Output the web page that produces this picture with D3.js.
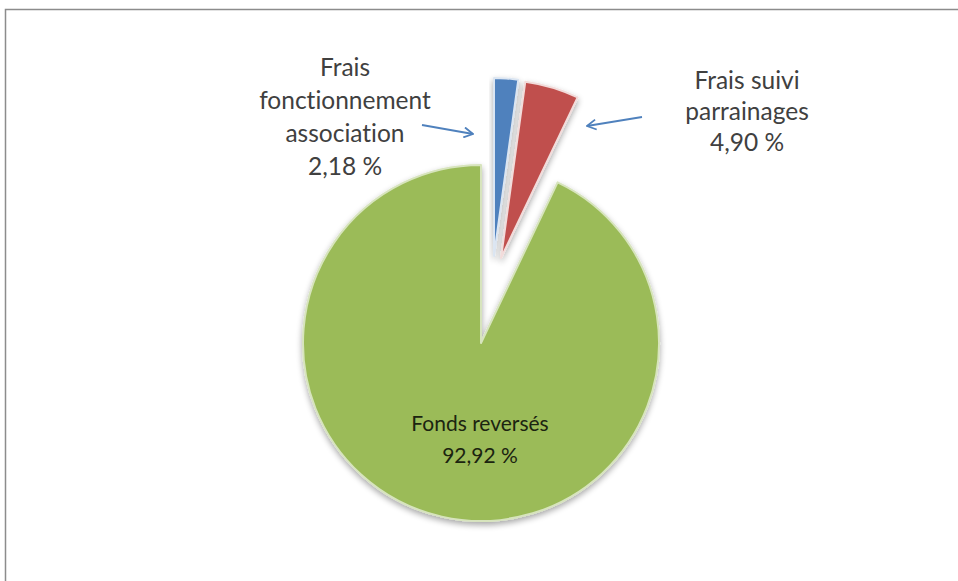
<!DOCTYPE html>
<html>
<head>
<meta charset="utf-8">
<script src="https://cdn.jsdelivr.net/npm/d3@7"></script>
<style>
  html, body { margin: 0; padding: 0; background: #fff; }
  svg { display: block; }
  text { font-family: Lato, "Open Sans", sans-serif; font-variant-ligatures: none; }
</style>
</head>
<body>
<svg id="chart"></svg>
<script>
// data
const categories = ['Frais fonctionnement association', 'Frais suivi parrainages', 'Fonds reversés'];
const values = [2.18, 4.90, 92.92];
const valueLabels = ['2,18 %', '4,90 %', '92,92 %'];
const colors = ['#4f81bd', '#c0504d', '#9bbb59'];
const rims = ['#dce6f2', '#f2dcdb', '#d7e4bd'];
// how far each slice is pulled out (dx, dy)
const explodeOffsets = [[13, -87], [20, -85], [0, 0]];

const width = 958, height = 581;
const cx = 481, cy = 343, radius = 178;

const svg = d3.select('#chart')
    .attr('width', width)
    .attr('height', height);

// chart frame
svg.append('rect')
    .attr('x', 5.5)
    .attr('y', 9.5)
    .attr('width', width + 20)
    .attr('height', height + 20)
    .attr('fill', 'none')
    .attr('stroke', '#8c8c8c')
    .attr('stroke-width', 1.5);

const defs = svg.append('defs');
const shadow = defs.append('filter')
    .attr('id', 'shadow')
    .attr('x', '-20%').attr('y', '-20%')
    .attr('width', '140%').attr('height', '140%');
shadow.append('feGaussianBlur').attr('in', 'SourceAlpha').attr('stdDeviation', 3);
shadow.append('feOffset').attr('dx', 0).attr('dy', 3).attr('result', 'blur');
shadow.append('feComponentTransfer').append('feFuncA').attr('type', 'linear').attr('slope', 0.35);
const merge = shadow.append('feMerge');
merge.append('feMergeNode');
merge.append('feMergeNode').attr('in', 'SourceGraphic');

const marker = defs.append('marker')
    .attr('id', 'arrow')
    .attr('viewBox', '0 0 12 12')
    .attr('refX', 11)
    .attr('refY', 6)
    .attr('markerWidth', 12)
    .attr('markerHeight', 12)
    .attr('markerUnits', 'userSpaceOnUse')
    .attr('orient', 'auto');
marker.append('path')
    .attr('d', 'M2,1 L11,6 L2,11')
    .attr('fill', 'none')
    .attr('stroke', '#4f81bd')
    .attr('stroke-width', 1.8);

const pie = d3.pie().sort(null).value(d => d)(values);
const arc = d3.arc().innerRadius(0).outerRadius(radius);

const g = svg.append('g').attr('transform', `translate(${cx},${cy})`);

g.selectAll('path.slice')
    .data(pie)
    .join('path')
    .attr('class', 'slice')
    .attr('d', arc)
    .attr('fill', (d, i) => colors[i])
    .attr('stroke', (d, i) => rims[i])
    .attr('stroke-width', 2)
    .attr('stroke-linejoin', 'round')
    .attr('filter', 'url(#shadow)')
    .attr('transform', (d, i) => `translate(${explodeOffsets[i][0]},${explodeOffsets[i][1]})`);

// labels
const labelLines = [
    ['Frais', 'fonctionnement', 'association', valueLabels[0]],
    ['Frais suivi', 'parrainages', valueLabels[1]],
    ['Fonds reversés', valueLabels[2]]
];
const labelPos = [[345, 76], [747, 89], [480, 431]];
const lineGap = [33, 31, 32];
const labelSize = [24.5, 24.5, 21];

labelLines.forEach((lines, i) => {
    const t = svg.append('text')
        .attr('x', labelPos[i][0])
        .attr('y', labelPos[i][1])
        .attr('text-anchor', 'middle')
        .attr('font-size', labelSize[i])
        .attr('fill', i === 2 ? '#1b2410' : '#404040');
    lines.forEach((s, j) => {
        t.append('tspan')
            .attr('x', labelPos[i][0])
            .attr('dy', j === 0 ? 0 : lineGap[i])
            .text(s);
    });
});

// leader arrows
const arrows = [[[422, 125], [473, 134]], [[642, 117], [587, 126]]];
svg.selectAll('line.arrow')
    .data(arrows)
    .join('line')
    .attr('class', 'arrow')
    .attr('x1', d => d[0][0]).attr('y1', d => d[0][1])
    .attr('x2', d => d[1][0]).attr('y2', d => d[1][1])
    .attr('stroke', '#4f81bd')
    .attr('stroke-width', 1.8)
    .attr('marker-end', 'url(#arrow)');
</script>
</body>
</html>
